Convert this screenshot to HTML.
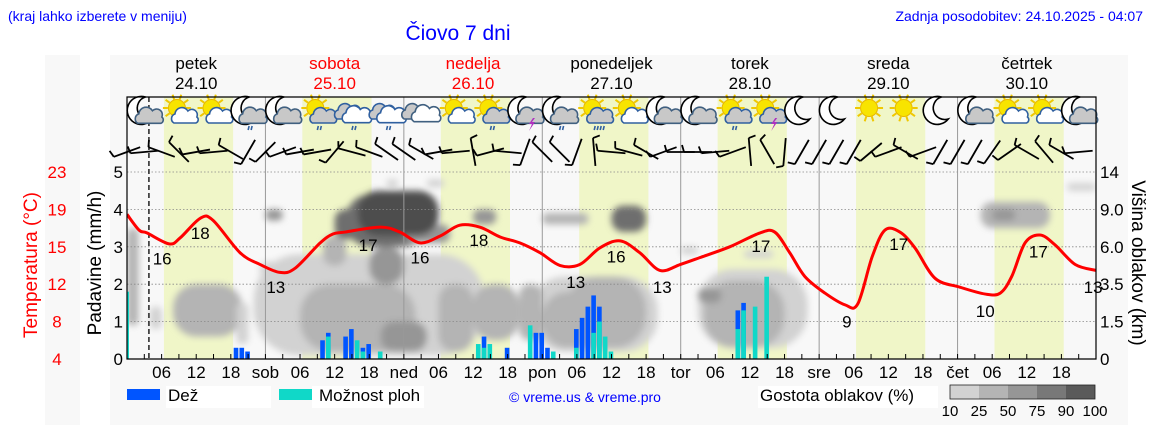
<!DOCTYPE html>
<html><head><meta charset="utf-8">
<style>
html,body{margin:0;padding:0;background:#fff;}
svg{display:block;font-family:"Liberation Sans","DejaVu Sans",sans-serif;}
</style></head>
<body>
<svg id="chart" width="1152" height="443" viewBox="0 0 1152 443" xmlns="http://www.w3.org/2000/svg">
<defs>
<filter id="blur" x="-20%" y="-20%" width="140%" height="140%"><feGaussianBlur stdDeviation="3.5"/></filter>
<clipPath id="plotclip"><rect x="127" y="97" width="969" height="262"/></clipPath>
</defs>
<rect x="45" y="55" width="35" height="370" fill="#f8f8f8"/>
<rect x="110" y="55" width="1018" height="370" fill="#f8f8f8"/>
<text x="8" y="21" font-size="14" fill="#0000ff">(kraj lahko izberete v meniju)</text>
<text x="458" y="40" font-size="21" fill="#0000ff" text-anchor="middle">Čiovo 7 dni</text>
<text x="1143" y="21" font-size="14" fill="#0000ff" text-anchor="end">Zadnja posodobitev: 24.10.2025 - 04:07</text>
<g id="g-bg"></g>
<g clip-path="url(#plotclip)"><g id="g-cloud" filter="url(#blur)"></g></g>
<g id="g-grid"></g>
<g id="g-bars"></g>
<g id="g-temp"></g>
<g id="g-icons"></g>
<g id="g-wind"></g>
<g id="g-axes"></g>
<g id="g-legend"></g>
</svg>
<script>
// ---------- data ----------
const dayNames = ['petek','sobota','nedelja','ponedeljek','torek','sreda','četrtek'];
const dayDates = ['24.10','25.10','26.10','27.10','28.10','29.10','30.10'];
const dayColors = ['#000','#f00','#f00','#000','#000','#000','#000'];
const dayShort = ['sob','ned','pon','tor','sre','čet'];
const leftTicks = [0,1,2,3,4,5];
const tempTickLabels = ['4','8','12','15','19','23'];
const cloudTickLabels = ['0','1.5','3.5','6.0','9.0','14'];
const tempHours = [0,2.1,3.5,7.3,9.2,12.7,14.9,19.6,23.1,26.5,29.1,33.5,35.7,37.8,43.9,47.3,50.8,54.3,57.7,61.2,64.7,68.1,71.6,75.1,78.5,82,85.5,88.9,92.4,95.9,99.3,104.5,109.7,112.3,114.9,117.5,121,124.5,126.7,129.2,131.4,134,136.6,140.1,144.4,148.8,151.4,153.4,155.7,158.3,160.9,164.4,168];
const tempVals = [18.7,17.1,16.8,15.7,16.3,18.3,18.1,14.8,13.6,12.8,13.2,15.8,16.7,16.9,17.4,16.9,15.8,16.5,17.6,17.4,16.4,15.8,14.8,13.5,13.6,15.3,16.0,14.8,13.0,13.6,14.3,15.4,16.8,16.9,14.8,12.4,10.7,9.5,9.6,14.4,17.1,16.9,15.3,12.2,11.3,10.6,10.7,12.4,15.8,16.6,15.6,13.6,13.0];
const tempLabelHours = [6.1,12.7,25.8,41.8,50.8,61,77.8,84.8,92.8,109.9,124.8,133.8,148.8,158,167.5];
const tempLabelPos = [14.2,16.8,11.3,15.6,14.3,16.1,11.8,14.4,11.3,15.5,7.8,15.7,8.9,14.9,11.3];
const tempLabelText = ['16','18','13','17','16','18','13','16','13','17','9','17','10','17','13'];
const barHours = [0,18,19,20,33,34,37,38,39,40,41,43,60,61,62,65,69,70,71,72,73,77,78,79,80,81,82,83,105,106,108,110];
const rainVals = [0,0.3,0.3,0.2,0.5,0.7,0.6,0.8,0,0.3,0.4,0,0,0.6,0,0.3,0,0.7,0.7,0.3,0,0.8,1.1,1.4,1.7,1.4,0,0,1.3,1.5,0,0];
const showerVals = [1.8,0,0,0,0,0.6,0,0,0.5,0.2,0,0.2,0.4,0.3,0.4,0,0.9,0,0,0,0.2,0.3,0,0,0.7,1.0,0.6,0.2,0.8,1.3,1.4,2.2];
const cloudH0 = [22,70,99,0,4,8,19,23,24,26,30,34,36,38,42,48,54,44,45,52,60,60,68,72,72,84,76,96,100,99,107,148,150,163,40];
const cloudH1 = [62,92,118,2,6,20,21,31,27,34,50,38,40,52,48,56,60,52,47,55,68,64,72,80,84,90,90,99,114,103,112,160,154,168,54];
const cloudY0 = [0.1,0.2,0.3,0.9,0.8,0.6,0.4,2.2,3.7,0.8,0.2,2.5,3.2,3.0,2.0,3.1,0.2,0.2,4.6,4.6,0.5,3.6,0.5,3.6,0.3,3.4,0.3,2.8,0.3,1.5,2.7,3.5,3.7,4.5,3.3];
const cloudY1 = [2.8,2.2,2.4,3.5,1.4,2.0,1.5,2.6,4.0,2.0,2.0,3.3,4.0,4.4,3.0,3.6,2.0,1.0,4.8,4.8,2.0,4.0,2.0,3.9,1.8,4.1,2.2,3.0,2.1,1.9,2.9,4.2,4.0,4.7,4.5];
const cloudD = [1,1,1,2,1,2,1,1,3,1,2,2,4,4,3,3,2,3,1,1,2,3,2,2,2,4,2,1,2,3,1,2,3,1,5];
const iconTypes = ['mc','sc','sc','mcr','mc','scr','cr','cr','cc','sc','scr','mt','mcr','scR','sc','mc','mc','scr','st','m','m','s','s','m','mc','sc','sc','mc'];
const windAngles = [-20,-5,20,45,-10,-5,30,-60,-45,-20,-10,-10,-50,15,20,35,35,30,-10,-5,80,-15,5,-70,45,45,-70,85,5,15,30,-20,0,0,-5,-20,85,60,-85,-60,-60,-60,-60,-40,-20,30,-20,-60,-60,-60,-55,-35,30,50,30,-5];
const densityLabels = ['10','25','50','75','90','100'];

// ---------- scales ----------
const X0=127, X1=1096, YB=359, YT=97, HW=(X1-X0)/168, DW=HW*24;
const xH = h => X0 + h*HW;
const yP = v => YB - v*37.4;
const yT = t => YB - (t-4)*9.84;
const grays = ['#ffffff','#d2d2d2','#b4b4b4','#969696','#6e6e6e','#4e4e4e'];
const NS='http://www.w3.org/2000/svg';
function mk(tag, attrs, parent){const e=document.createElementNS(NS,tag);for(const k in attrs)e.setAttribute(k,attrs[k]);parent.appendChild(e);return e;}
const G = id => document.getElementById(id);

// backgrounds
const bg=G('g-bg');
let r=mk('rect',{x:X0,y:YT,width:X1-X0,height:YB-YT,fill:'#f8f8f8'},bg);


for(let d=0;d<7;d++){
  const b=mk('rect',{x:xH(d*24+6.4),y:YT,width:12*HW,height:YB-YT,fill:'#f0f6c8'},bg);
  
  
  const t1=mk('text',{x:xH(d*24+12),y:69,'font-size':17,'text-anchor':'middle',fill:dayColors[d]},bg);
  t1.textContent=dayNames[d];
  
  
  const t2=mk('text',{x:xH(d*24+12),y:89,'font-size':17,'text-anchor':'middle',fill:dayColors[d]},bg);
  t2.textContent=dayDates[d];
  
  
}
// clouds
const cg=G('g-cloud');
for(let i=0;i<cloudH0.length;i++){
  const w=(cloudH1[i]-cloudH0[i])*HW, h=(cloudY1[i]-cloudY0[i])*37.4;
  const c=mk('rect',{x:xH(cloudH0[i]),y:yP(cloudY1[i]),width:w,height:h,rx:Math.min(w,h)*0.45,fill:grays[cloudD[i]]},cg);
  
  
}
// grid
const gg=G('g-grid');
for(let v=1;v<=5;v++){
  const l=mk('line',{x1:X0,x2:X1,y1:yP(v),y2:yP(v),stroke:'#888','stroke-width':0.8,'stroke-dasharray':'1.5,2'},gg);
  
  
}
for(let d=1;d<7;d++){
  const l=mk('line',{x1:xH(d*24),x2:xH(d*24),y1:YT,y2:YB,stroke:'#999','stroke-width':1},gg);
  
  
}
const now=mk('line',{x1:xH(3.8),x2:xH(3.8),y1:YT,y2:YB,stroke:'#222','stroke-width':1.5,'stroke-dasharray':'5,3'},gg);


// bars
const bgp=G('g-bars');
for(let i=0;i<barHours.length;i++){
  const x=xH(barHours[i]+0.5), w=i===0?2:HW*0.8;
  if(rainVals[i]>0){const b=mk('rect',{x:x,y:yP(rainVals[i]),width:w,height:rainVals[i]*37.4,fill:'#0055ff'},bgp);
    
    }
  if(showerVals[i]>0){const b=mk('rect',{x:i===0?X0:x,y:yP(showerVals[i]),width:w,height:showerVals[i]*37.4,fill:'#10d8c8'},bgp);
    
    }
}
// temperature
const tg=G('g-temp');
let pts=tempHours.map((h,i)=>[xH(h),yT(tempVals[i])]);
let d='M'+pts[0][0]+','+pts[0][1];
for(let i=0;i<pts.length-1;i++){
  const p0=pts[Math.max(0,i-1)],p1=pts[i],p2=pts[i+1],p3=pts[Math.min(pts.length-1,i+2)];
  const c1=[p1[0]+(p2[0]-p0[0])/6,p1[1]+(p2[1]-p0[1])/6],c2=[p2[0]-(p3[0]-p1[0])/6,p2[1]-(p3[1]-p1[1])/6];
  d+=' C'+c1+' '+c2+' '+p2;
}
const tl=mk('path',{d:d,fill:'none',stroke:'#ff0000','stroke-width':3,'clip-path':'url(#plotclip)'},tg);


for(let i=0;i<tempLabelText.length;i++){
  const t=mk('text',{x:xH(tempLabelHours[i]),y:yT(tempLabelPos[i])+6,'font-size':17,'text-anchor':'middle',fill:'#000'},tg);
  t.textContent=tempLabelText[i];
  
  
}
// icons
const ig=G('g-icons');
function cloud(g,cx,cy,s,fill,stroke){mk('path',{d:`M${cx-11*s},${cy+7*s} a${5*s} ${5*s} 0 0 1 ${1*s},${-9*s} a${7*s} ${7*s} 0 0 1 ${13*s},${-3*s} a${5.5*s} ${5.5*s} 0 0 1 ${9*s},${6*s} a${3.5*s} ${3.5*s} 0 0 1 ${-1*s},${6*s} Z`,fill:fill,stroke:stroke,'stroke-width':1.6},g);}
function sun(g,cx,cy){for(let a=0;a<10;a++){const an=a*Math.PI/5;mk('line',{x1:cx+Math.cos(an)*9,y1:cy+Math.sin(an)*9,x2:cx+Math.cos(an)*14,y2:cy+Math.sin(an)*14,stroke:'#f0c800','stroke-width':2},g);}mk('circle',{cx:cx,cy:cy,r:8.5,fill:'#f8e400',stroke:'#e8b800','stroke-width':1},g);}
function moon(g,cx,cy){mk('path',{d:`M${cx+4},${cy-14} A14 14 0 1 0 ${cx+11},${cy+8} A11 11 0 0 1 ${cx+4},${cy-14} Z`,fill:'#fff',stroke:'#000','stroke-width':1.6},g);}
function rain(g,cx,cy,n){for(let k=0;k<n;k++)mk('line',{x1:cx-3+k*3,y1:cy,x2:cx-4+k*3,y2:cy+4,stroke:'#3060a0','stroke-width':1.6},g);}
function bolt(g,cx,cy){mk('path',{d:`M${cx+2},${cy} l-4,6 h3 l-3,7 l6,-9 h-3 l3,-4 Z`,fill:'#b030c0'},g);}
iconTypes.forEach((t,i)=>{
  const cx=xH(3+6*i), cy=112;
  const g=mk('g',{},ig);
  
  
  if(t[0]==='m'){moon(g,cx-3,cy-1);}
  if(t[0]==='s'){sun(g,cx-2,cy-4);}
  if(t==='mc'||t==='mcr'||t==='mt'){cloud(g,cx+5,cy+4,1.05,'#c8c8c8','#406080');}
  if(t==='sc'||t==='scr'||t==='scR'||t==='st'){cloud(g,cx+6,cy+4,1.0,t==='sc'?'#fff':'#c8c8c8','#3060a0');}
  if(t==='cr'){cloud(g,cx-4,cy,1.0,'#c8c8c8','#3060a0');cloud(g,cx+5,cy+3,1.1,'#fff','#3060a0');}
  if(t==='cc'){cloud(g,cx-6,cy,1.0,'#c8c8c8','#406080');cloud(g,cx+5,cy+2,1.1,'#fff','#406080');}
  if(t==='mcr'||t==='scr'||t==='cr')rain(g,cx+4,cy+14,2);
  if(t==='scR')rain(g,cx+4,cy+14,4);
  if(t==='mt'||t==='st')bolt(g,cx+6,cy+6);
});
// wind barbs
const wg=G('g-wind');
windAngles.forEach((a,i)=>{
  const cx=xH(3*i), cy=152;
  const g=mk('g',{transform:`translate(${cx},${cy}) rotate(${a})`},wg);
  
  
  mk('line',{x1:-14,y1:0,x2:14,y2:0,stroke:'#000','stroke-width':1.8},g);
  mk('line',{x1:-14,y1:0,x2:-16,y2:-7,stroke:'#000','stroke-width':1.8},g);
});
// axes
const ag=G('g-axes');
const axp=mk('path',{d:`M${X0},${YT} H${X1} V${YB} H${X0} Z`,fill:'none',stroke:'#000','stroke-width':1.2},ag);


leftTicks.forEach((v,i)=>{
  let t=mk('text',{x:123,y:yP(v)+6,'font-size':17,'text-anchor':'end'},ag);t.textContent=String(v);
  
  
  t=mk('text',{x:57,y:yP(v)+6,'font-size':17,'text-anchor':'middle',fill:'#f00'},ag);t.textContent=tempTickLabels[i];
  
  
  t=mk('text',{x:1100,y:yP(v)+6,'font-size':17},ag);t.textContent=cloudTickLabels[i];
  
  
});
for(let h=3;h<168;h+=3){
  mk('line',{x1:xH(h),x2:xH(h),y1:YB,y2:YB-5,stroke:'#000','stroke-width':1},ag);
  const hr=h%24; let lab=null;
  if(hr===0)lab=dayShort[h/24-1]; else if(hr===6)lab='06'; else if(hr===12)lab='12'; else if(hr===18)lab='18';
  if(lab){const t=mk('text',{x:xH(h),y:378,'font-size':17,'text-anchor':'middle'},ag);t.textContent=lab;
    
    }
}
let t=mk('text',{x:0,y:0,'font-size':19,'text-anchor':'middle',fill:'#f00',transform:'translate(37,265) rotate(-90)'},ag);t.textContent='Temperatura (°C)';


t=mk('text',{x:0,y:0,'font-size':19,'text-anchor':'middle',transform:'translate(101,263) rotate(-90)'},ag);t.textContent='Padavine (mm/h)';


t=mk('text',{x:0,y:0,'font-size':19,'text-anchor':'middle',transform:'translate(1132,263) rotate(90)'},ag);t.textContent='Višina oblakov (km)';


// legend
const lg=G('g-legend');
mk('rect',{x:166,y:386,width:105,height:22,fill:'#fff'},lg);
mk('rect',{x:312,y:386,width:112,height:22,fill:'#fff'},lg);
let e=mk('rect',{x:127,y:389,width:33,height:11,fill:'#0055ff'},lg);


t=mk('text',{x:168,y:401,'font-size':17},lg);t.textContent='Dež';


e=mk('rect',{x:279,y:389,width:33,height:11,fill:'#10d8c8'},lg);


t=mk('text',{x:319,y:401,'font-size':17},lg);t.textContent='Možnost ploh';


t=mk('text',{x:585,y:402,'font-size':14,'text-anchor':'middle',fill:'#0000ff'},lg);t.textContent='© vreme.us & vreme.pro';


mk('rect',{x:758,y:386,width:180,height:22,fill:'#fff'},lg);
t=mk('text',{x:760,y:401,'font-size':17},lg);t.textContent='Gostota oblakov (%)';


const legendGrays=['#d2d2d2','#b4b4b4','#969696','#787878','#5a5a5a'];
for(let i=0;i<5;i++){
  e=mk('rect',{x:950+i*29,y:385,width:29,height:14,fill:legendGrays[i]},lg);
  
  
}
mk('rect',{x:950,y:385,width:145,height:14,fill:'none',stroke:'#222','stroke-width':0.8},lg);
densityLabels.forEach((s,i)=>{const tt=mk('text',{x:950+i*29,y:416,'font-size':15,'text-anchor':'middle'},lg);tt.textContent=s;
  
  });
</script>
</body></html>
